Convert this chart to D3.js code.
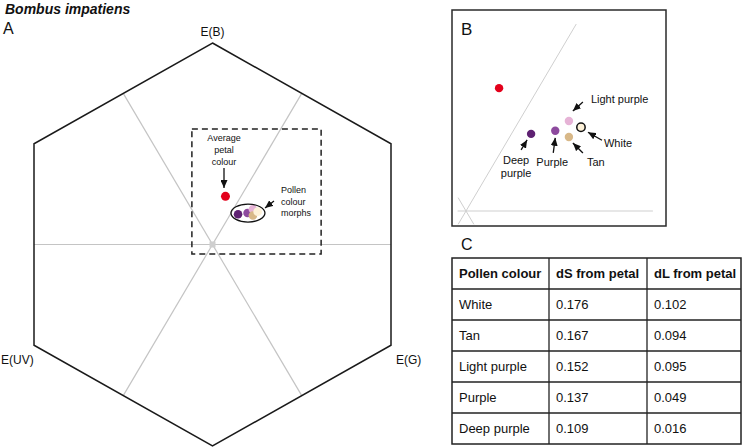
<!DOCTYPE html>
<html>
<head>
<meta charset="utf-8">
<script src="https://cdn.jsdelivr.net/npm/d3@7"></script>
<style>
  body { margin: 0; background: #fff; }
  text { font-family: "Liberation Sans", Arial, Helvetica, sans-serif; fill: #111; }
</style>
</head>
<body>
<div id="chart"></div>
<script>
var w = 744;
var h = 447;

// colour hexagon coordinates (centre 0,0, vertex radius 1)
var petalX = [0.063];
var petalY = [0.239];
var morphs = ["Deep purple", "Purple", "Light purple", "Tan", "White"];
var morphX = [0.124, 0.170, 0.196, 0.196, 0.219];
var morphY = [0.150, 0.156, 0.175, 0.144, 0.163];
var morphFill = ["#5e2172", "#8d4a9e", "#e6b3d6", "#d8b888", "#fdf1d8"];

var vertexLabels = ["E(B)", "E(G)", "E(UV)"];

// table C
var tableHead = ["Pollen colour", "dS from petal", "dL from petal"];
var tableRows = ["White", "Tan", "Light purple", "Purple", "Deep purple"];
var dS = ["0.176", "0.167", "0.152", "0.137", "0.109"];
var dL = ["0.102", "0.094", "0.095", "0.049", "0.016"];

var s3 = Math.sqrt(3) / 2;

var svg = d3.select("#chart")
            .append("svg")
            .attr("width", w)
            .attr("height", h);

svg.append("defs").append("marker")
   .attr("id", "arr")
   .attr("markerUnits", "userSpaceOnUse")
   .attr("markerWidth", 8).attr("markerHeight", 7)
   .attr("refX", 8).attr("refY", 3.5)
   .attr("orient", "auto")
   .append("path")
   .attr("d", "M0,0 L8,3.5 L0,7 z")
   .attr("fill", "#111");

function arrow(g, x1, y1, x2, y2) {
    g.append("line")
     .attr("x1", x1).attr("y1", y1).attr("x2", x2).attr("y2", y2)
     .attr("stroke", "#111").attr("stroke-width", 1.3)
     .attr("marker-end", "url(#arr)");
}

// ---------- panel A ----------
var xA = d3.scaleLinear().domain([-s3, s3]).range([34, 391]);
var yA = d3.scaleLinear().domain([-1, 1]).range([446, 43]);

var hexPts = d3.range(6).map(i => {
    var a = Math.PI / 2 - i * Math.PI / 3;
    return [Math.cos(a), Math.sin(a)];
});

// gray axes between opposite edge midpoints
var mids = d3.range(3).map(i => {
    var a = i * Math.PI / 3;
    return [s3 * Math.cos(a), s3 * Math.sin(a)];
});
svg.selectAll("line.axA")
   .data(mids)
   .enter()
   .append("line")
   .attr("class", "axA")
   .attr("x1", d => xA(-d[0])).attr("y1", d => yA(-d[1]))
   .attr("x2", d => xA(d[0])).attr("y2", d => yA(d[1]))
   .attr("stroke", "#c4c4c4").attr("stroke-width", 1.2);

svg.append("rect")
   .attr("x", xA(0) - 3).attr("y", yA(0) - 3)
   .attr("width", 6).attr("height", 6)
   .attr("fill", "#cfcfcf");

svg.append("path")
   .attr("d", d3.line().x(d => xA(d[0])).y(d => yA(d[1]))(hexPts) + "Z")
   .attr("fill", "none")
   .attr("stroke", "#1a1a1a")
   .attr("stroke-width", 1.5);

// vertex labels
svg.append("text").attr("x", xA(0)).attr("y", yA(1) - 7)
   .attr("text-anchor", "middle").style("font-size", "12px").text(vertexLabels[0]);
svg.append("text").attr("x", xA(s3) + 5).attr("y", 364)
   .style("font-size", "12px").text(vertexLabels[1]);
svg.append("text").attr("x", 1).attr("y", 364)
   .style("font-size", "12px").text(vertexLabels[2]);

// dashed zoom box
svg.append("rect")
   .attr("x", xA(-0.1)).attr("y", yA(0.573))
   .attr("width", xA(0.527) - xA(-0.1))
   .attr("height", yA(-0.047) - yA(0.573))
   .attr("fill", "none")
   .attr("stroke", "#222").attr("stroke-width", 1.5)
   .attr("stroke-dasharray", "6,4");

// points
svg.selectAll("circle.mA")
   .data(morphs)
   .enter()
   .append("circle")
   .attr("class", "mA")
   .attr("cx", (d, i) => xA(morphX[i]))
   .attr("cy", (d, i) => yA(morphY[i]))
   .attr("r", 4.3)
   .attr("fill", (d, i) => morphFill[i]);

svg.append("circle")
   .attr("cx", xA(petalX[0])).attr("cy", yA(petalY[0]))
   .attr("r", 4.5).attr("fill", "#e3001b");

svg.append("ellipse")
   .attr("cx", xA(0.172)).attr("cy", yA(0.156))
   .attr("rx", 17).attr("ry", 9)
   .attr("fill", "none").attr("stroke", "#111").attr("stroke-width", 1.3);

var annA = svg.append("g").style("font-size", "9px");
["Average", "petal", "colour"].forEach((t, i) => {
    annA.append("text").attr("x", 224).attr("y", 141 + i * 12)
        .attr("text-anchor", "middle").text(t);
});
arrow(annA, 224, 168, 224, 188);
["Pollen", "colour", "morphs"].forEach((t, i) => {
    annA.append("text").attr("x", 281).attr("y", 193 + i * 11.5).text(t);
});
arrow(annA, 274, 201, 265, 208);

// panel labels
svg.append("text").attr("x", 5).attr("y", 14)
   .style("font-size", "14px").style("font-weight", "bold").style("font-style", "italic")
   .text("Bombus impatiens");
svg.append("text").attr("x", 3).attr("y", 34).style("font-size", "16px").text("A");

// ---------- panel B ----------
var xB = d3.scaleLinear().domain([0, 1]).range([466, 991]);
var yB = d3.scaleLinear().domain([0, 1]).range([211, -303]);

svg.append("rect")
   .attr("x", 452).attr("y", 10).attr("width", 214).attr("height", 216)
   .attr("fill", "none").attr("stroke", "#2a2a2a").attr("stroke-width", 1.5);

svg.append("text").attr("x", 461).attr("y", 35).style("font-size", "17px").text("B");

// partial axes seen in the zoom
var axB = [[0, -0.016, 0.356], [Math.PI / 3, -0.03, 0.42], [2 * Math.PI / 3, -0.03, 0.03]];
svg.selectAll("line.axB")
   .data(axB)
   .enter()
   .append("line")
   .attr("class", "axB")
   .attr("x1", d => xB(d[1] * Math.cos(d[0]))).attr("y1", d => yB(d[1] * Math.sin(d[0])))
   .attr("x2", d => xB(d[2] * Math.cos(d[0]))).attr("y2", d => yB(d[2] * Math.sin(d[0])))
   .attr("stroke", "#cfcfcf").attr("stroke-width", 1);

svg.append("circle")
   .attr("cx", xB(petalX[0])).attr("cy", yB(petalY[0]))
   .attr("r", 4.2).attr("fill", "#e3001b");

svg.selectAll("circle.mB")
   .data(morphs)
   .enter()
   .append("circle")
   .attr("class", "mB")
   .attr("cx", (d, i) => xB(morphX[i]))
   .attr("cy", (d, i) => yB(morphY[i]))
   .attr("r", 4.2)
   .attr("fill", (d, i) => morphFill[i])
   .attr("stroke", d => d === "White" ? "#111" : "none")
   .attr("stroke-width", 1.5);

// label layout relative to each dot: arrow start, arrow tip, text lines
var labB = {
    "Deep purple":  { a: [-10, 16, -4, 6], t: [[-15, 30, "Deep"], [-15, 43, "purple"]], anchor: "middle" },
    "Purple":       { a: [-2, 22, 0, 7], t: [[-3, 35, "Purple"]], anchor: "middle" },
    "Light purple": { a: [14, -19, 4, -10], t: [[22, -18, "Light purple"]], anchor: "start" },
    "Tan":          { a: [14, 16, 4, 6], t: [[18, 29, "Tan"]], anchor: "start" },
    "White":        { a: [21, 13, 7, 5], t: [[23, 20, "White"]], anchor: "start" }
};
var annB = svg.append("g").style("font-size", "11px");
morphs.forEach((m, i) => {
    var cx = xB(morphX[i]), cy = yB(morphY[i]), L = labB[m];
    arrow(annB, cx + L.a[0], cy + L.a[1], cx + L.a[2], cy + L.a[3]);
    L.t.forEach(t => {
        annB.append("text").attr("x", cx + t[0]).attr("y", cy + t[1])
            .attr("text-anchor", L.anchor).text(t[2]);
    });
});

// ---------- panel C ----------
svg.append("text").attr("x", 461).attr("y", 250).style("font-size", "16px").text("C");

var colEdges = [452, 549, 647, 741];
var rowY = d3.scaleLinear().domain([0, 6]).range([258, 444]);
var cells = [tableHead].concat(tableRows.map((r, i) => [r, dS[i], dL[i]]));

var tbl = svg.append("g");
tbl.append("rect")
   .attr("x", colEdges[0]).attr("y", rowY(0))
   .attr("width", colEdges[3] - colEdges[0]).attr("height", rowY(6) - rowY(0))
   .attr("fill", "none").attr("stroke", "#222").attr("stroke-width", 1.5);
d3.range(1, 6).forEach(r => {
    tbl.append("line").attr("x1", colEdges[0]).attr("x2", colEdges[3])
       .attr("y1", rowY(r)).attr("y2", rowY(r))
       .attr("stroke", "#222").attr("stroke-width", 1.3);
});
[1, 2].forEach(c => {
    tbl.append("line").attr("x1", colEdges[c]).attr("x2", colEdges[c])
       .attr("y1", rowY(0)).attr("y2", rowY(6))
       .attr("stroke", "#222").attr("stroke-width", 1.3);
});
cells.forEach((row, r) => {
    row.forEach((v, c) => {
        tbl.append("text")
           .attr("x", colEdges[c] + 7)
           .attr("y", (rowY(r) + rowY(r + 1)) / 2 + 4.5)
           .style("font-size", "13px")
           .style("font-weight", r === 0 ? "bold" : "normal")
           .text(v);
    });
});
</script>
</body>
</html>
